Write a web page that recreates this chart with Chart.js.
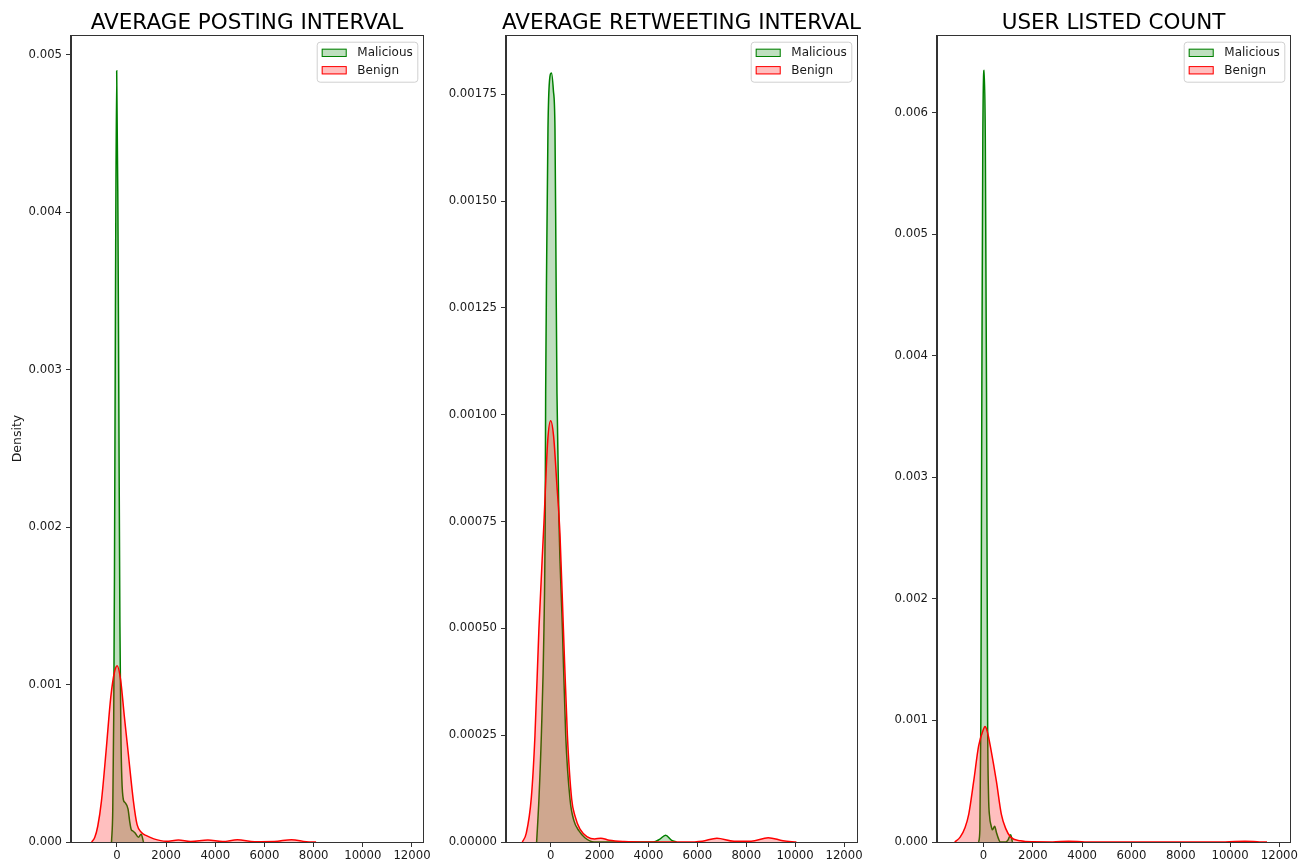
<!DOCTYPE html>
<html>
<head>
<meta charset="utf-8">
<script src="https://cdn.jsdelivr.net/npm/chart.js@4.4.1/dist/chart.umd.min.js"></script>
<style>
  body { margin: 0; background: #fff; }
  .panel { position: absolute; top: 0; }
</style>
</head>
<body>
<canvas id="posting" class="panel" style="left:0" width="433" height="865"></canvas>
<canvas id="retweeting" class="panel" style="left:433px" width="433" height="865"></canvas>
<canvas id="listed" class="panel" style="left:866px" width="440" height="865"></canvas>
<script>
// tick values
var xTicks = [0, 2000, 4000, 6000, 8000, 10000, 12000];
var postingYTicks = [0, 0.001, 0.002, 0.003, 0.004, 0.005];
var retweetYTicks = [0, 0.00025, 0.0005, 0.00075, 0.001, 0.00125, 0.0015, 0.00175];
var listedYTicks = [0, 0.001, 0.002, 0.003, 0.004, 0.005, 0.006];

// AVERAGE POSTING INTERVAL
var postingMalX = [-220, -170, -130, -100, -60, -10, 40, 80, 120, 160, 200, 260, 330, 450, 520, 580, 650, 740, 875, 985, 1080];
var postingMalY = [0, 0.0002, 0.0008, 0.0017, 0.0034, 0.0049, 0.0040, 0.0027, 0.0014, 0.0007, 0.0004, 0.00027, 0.00025, 0.00021, 0.00013, 0.00008, 0.00007, 0.000057, 0.00003, 0.00005, 0];
var postingBenX = [-1030, -900, -780, -630, -440, -250, -100, 10, 150, 300, 450, 670, 820, 1000, 1200, 1500, 2000, 2500, 3000, 3700, 4300, 4900, 5600, 6400, 7100, 7700, 8100];
var postingBenY = [0, 0.00003, 0.0001, 0.00026, 0.00058, 0.00092, 0.00108, 0.00112, 0.00103, 0.0008, 0.00058, 0.00026, 0.00011, 0.00006, 0.00004, 0.00002, 0.000005, 0.000012, 0.000003, 0.000012, 0.000003, 0.000014, 0.000002, 0.000003, 0.000015, 0.000002, 0];

// AVERAGE RETWEETING INTERVAL
var retweetMalX = [-574, -480, -381, -274, -225, -205, -164, -110, -50, 33, 110, 176, 217, 258, 340, 480, 615, 791, 950, 1160, 1400, 1775, 4200, 4450, 4700, 4950, 5150];
var retweetMalY = [0, 0.0001, 0.00025, 0.0005, 0.00075, 0.00105, 0.00136, 0.00167, 0.00178, 0.0018, 0.00176, 0.00167, 0.00136, 0.00105, 0.00075, 0.0005, 0.00025, 0.0001, 0.00005, 0.000026, 0.00001, 0, 0, 0.000006, 0.000016, 0.000004, 0];
var retweetBenX = [-1160, -1000, -791, -643, -480, -274, -120, 0, 120, 250, 381, 520, 684, 860, 1000, 1200, 1500, 1800, 2050, 2400, 3000, 4000, 5500, 6200, 6800, 7500, 8200, 8900, 9500, 10050];
var retweetBenY = [0, 0.00002, 0.000104, 0.000248, 0.0005, 0.000748, 0.00094, 0.000986, 0.00095, 0.00084, 0.00072, 0.0005, 0.00025, 0.0001, 0.00006, 0.00003, 0.000012, 0.000007, 0.000009, 0.000004, 0.000001, 0, 0, 0.000002, 0.000009, 0.000002, 0.000002, 0.00001, 0.000003, 0];

// USER LISTED COUNT
var listedMalX = [-200, -150, -110, -70, -30, 25, 70, 120, 165, 200, 250, 300, 360, 450, 520, 600, 680, 900, 1000, 1100, 1170];
var listedMalY = [0, 0.0001, 0.001, 0.0037, 0.0058, 0.00635, 0.0058, 0.0037, 0.001, 0.0004, 0.0002, 0.00014, 0.0001, 0.00013, 0.00008, 0.00003, 0, 0, 0.00002, 0.00006, 0];
var listedBenX = [-1170, -950, -750, -600, -400, -200, 0, 53, 150, 300, 520, 720, 900, 1100, 1500, 2000, 2800, 3450, 4100, 5000, 9800, 10600, 11200, 11500];
var listedBenY = [0, 0.00004, 0.00012, 0.00023, 0.0005, 0.00079, 0.00093, 0.00095, 0.00091, 0.00076, 0.0005, 0.00023, 0.00011, 0.00004, 0.00001, 0.000002, 0.000001, 0.000006, 0.000001, 0, 0, 0.000007, 0.000001, 0];

Chart.defaults.font.family = '"DejaVu Sans", sans-serif';
Chart.defaults.font.size = 11.7;
Chart.defaults.color = '#1a1a1a';

function zip(xs, ys){
  return xs.map(function(x, i){ return { x: x, y: ys[i] }; });
}

// frame, axes title and legend drawn in matplotlib style
var panelDecor = {
  id: 'panelDecor',
  afterDraw: function(chart, args, opts){
    var ctx = chart.ctx, a = chart.chartArea;
    ctx.save();
    ctx.strokeStyle = '#333';
    ctx.lineWidth = 1;
    ctx.strokeRect(Math.round(a.left) - 0.5, Math.round(a.top) + 0.5, a.right - a.left + 1, a.bottom - a.top);

    ctx.fillStyle = '#000';
    ctx.font = '21.5px "DejaVu Sans"';
    ctx.textAlign = 'center';
    ctx.textBaseline = 'alphabetic';
    ctx.fillText(opts.title, (a.left + a.right) / 2, 28.5);

    // legend box
    var w = 100.6, h = 40;
    var lx = a.right - 5.7 - w, ly = a.top + 6.7;
    ctx.beginPath();
    ctx.roundRect(lx + 0.5, ly + 0.5, w, h, 3);
    ctx.fillStyle = 'rgba(255,255,255,0.8)';
    ctx.fill();
    ctx.strokeStyle = '#d0d0d0';
    ctx.stroke();
    ctx.font = '12px "DejaVu Sans"';
    ctx.textAlign = 'left';
    ctx.textBaseline = 'middle';
    chart.data.datasets.forEach(function(ds, i){
      var cy = ly + 11 + i * 17.4;
      ctx.fillStyle = ds.backgroundColor;
      ctx.fillRect(lx + 5, cy - 4, 25, 8.3);
      ctx.strokeStyle = ds.borderColor;
      ctx.strokeRect(lx + 5.5, cy - 3.5, 24, 7.3);
      ctx.fillStyle = '#1a1a1a';
      ctx.fillText(ds.label, lx + 40.6, cy + 0.5);
    });
    ctx.restore();
  }
};

function makePanel(id, cfg){
  new Chart(document.getElementById(id), {
    type: 'line',
    data: {
      datasets: [
        { label: 'Malicious', data: zip(cfg.malX, cfg.malY), borderColor: '#008000', backgroundColor: 'rgba(0,128,0,0.25)', order: 2 },
        { label: 'Benign', data: zip(cfg.benX, cfg.benY), borderColor: '#ff0000', backgroundColor: 'rgba(255,0,0,0.25)', order: 1 }
      ]
    },
    options: {
      responsive: false,
      animation: false,
      devicePixelRatio: 1,
      layout: { padding: { top: 35, right: cfg.padRight, left: 0, bottom: 0 } },
      elements: {
        line: { borderWidth: 1.5, fill: 'origin', cubicInterpolationMode: 'monotone' },
        point: { radius: 0, hoverRadius: 0 }
      },
      plugins: {
        legend: { display: false },
        tooltip: { enabled: false },
        panelDecor: { title: cfg.title }
      },
      scales: {
        x: {
          type: 'linear',
          min: cfg.xMin, max: cfg.xMax,
          grid: { drawOnChartArea: false, drawTicks: true, tickLength: 5, color: '#333' },
          border: { display: true, color: '#333' },
          ticks: { padding: 2, maxRotation: 0, callback: function(v){ return String(v); } },
          afterBuildTicks: function(s){ s.ticks = xTicks.map(function(v){ return { value: v }; }); },
          afterFit: function(s){ s.height = 23; }
        },
        y: {
          min: 0, max: cfg.yMax,
          grid: { drawOnChartArea: false, drawTicks: true, tickLength: 5, color: '#333' },
          border: { display: true, color: '#333' },
          ticks: { padding: 4, callback: function(v){ return v.toFixed(cfg.decimals); } },
          title: { display: cfg.yTitle, text: 'Density', font: { size: 12.5 }, color: '#1a1a1a', padding: { top: 10, bottom: 0 } },
          afterBuildTicks: function(s){ s.ticks = cfg.yTicks.map(function(v){ return { value: v }; }); },
          afterFit: function(s){ s.width = cfg.yWidth; }
        }
      }
    },
    plugins: [panelDecor]
  });
}

makePanel('posting', {
  title: 'AVERAGE POSTING INTERVAL',
  malX: postingMalX, malY: postingMalY, benX: postingBenX, benY: postingBenY,
  xMin: -1868, xMax: 12448, yMax: 0.005127, yTicks: postingYTicks, decimals: 3,
  yWidth: 71, padRight: 10, yTitle: true
});
makePanel('retweeting', {
  title: 'AVERAGE RETWEETING INTERVAL',
  malX: retweetMalX, malY: retweetMalY, benX: retweetBenX, benY: retweetBenY,
  xMin: -1827, xMax: 12530, yMax: 0.001889, yTicks: retweetYTicks, decimals: 5,
  yWidth: 73, padRight: 9, yTitle: false
});
makePanel('listed', {
  title: 'USER LISTED COUNT',
  malX: listedMalX, malY: listedMalY, benX: listedBenX, benY: listedBenY,
  xMin: -1889, xMax: 12432, yMax: 0.006639, yTicks: listedYTicks, decimals: 3,
  yWidth: 71, padRight: 16, yTitle: false
});
</script>
</body>
</html>
